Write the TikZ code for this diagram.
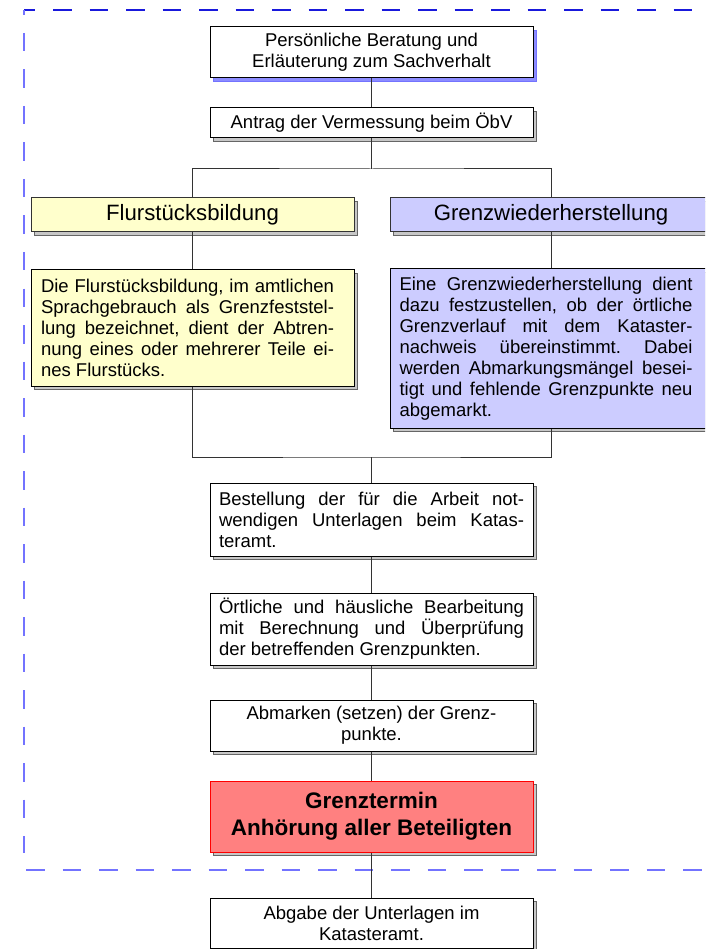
\documentclass[tikz,border=0pt]{standalone}
\usepackage{fontspec}
\setmainfont{Liberation Sans}
\usetikzlibrary{shadows}
\frenchspacing
\definecolor{yel}{HTML}{FFFFCC}
\definecolor{lav}{HTML}{CCCCFF}
\definecolor{redfill}{HTML}{FF8080}
\definecolor{dashdark}{RGB}{25,25,220}
\definecolor{dashlight}{RGB}{115,115,255}
\definecolor{linegray}{HTML}{333333}
\tikzset{
  sh/.style={drop shadow={shadow xshift=3pt,shadow yshift=-3pt,fill=black!22,draw=black!60,line width=0.8pt,opacity=1}},
  shblue/.style={drop shadow={shadow xshift=3pt,shadow yshift=-3pt,fill=blue!45,draw=blue!55,line width=0.8pt,opacity=1}},
  box/.style={draw=black, line width=1pt, fill=white, inner sep=0pt, font=\fontsize{18.5}{21}\selectfont, align=center},
  head/.style={box, font=\fontsize{22.2}{26}\selectfont, draw=linegray},
  conn/.style={draw=linegray, line width=1pt},
  frametop/.style={draw=dashdark, line width=1.8pt, dash pattern=on 18.5pt off 18pt},
  frameside/.style={draw=dashlight, line width=1.8pt, dash pattern=on 18.5pt off 18pt}
}
\begin{document}
\begin{tikzpicture}[x=1pt,y=-1pt]
\useasboundingbox (0,0) rectangle (705,949);
\clip (0,0) rectangle (705,949);
% dashed frame
\draw[frametop, dash phase=7.5pt] (24,10) -- (730,10);
\draw[frameside, dash phase=13.5pt] (24,10) -- (24,853);
\draw[frameside] (26,870) -- (730,870);
% nodes
\node[box, shblue, minimum width=323pt, minimum height=51pt] (b1) at (371.5,52.5)
  {Persönliche Beratung und\\Erläuterung zum Sachverhalt};
\node[box, sh, minimum width=323pt, minimum height=30pt] (b2) at (371.5,123)
  {Antrag der Vermessung beim ÖbV};
\node[head, sh, fill=yel, minimum width=323pt, minimum height=34pt] (h1) at (192.5,215)
  {Flurstücksbildung};
\node[head, sh, fill=lav, minimum width=322pt, minimum height=34pt] (h2) at (551,215)
  {Grenzwiederherstellung};
\node[box, sh, fill=yel, minimum width=323pt, minimum height=116pt] (d1) at (192.5,328)
  {\parbox{293pt}{Die Flurstücksbildung, im amtlichen\linebreak Sprachgebrauch als Grenzfeststel-\linebreak lung bezeichnet, dient der Abtren-\linebreak nung eines oder mehrerer Teile ei-\linebreak nes Flurstücks.}\hspace{10pt}};
\node[box, sh, fill=lav, minimum width=322pt, minimum height=159pt] (d2) at (551,348.5)
  {\parbox{293pt}{Eine Grenzwiederherstellung dient\linebreak dazu festzustellen, ob der örtliche\linebreak Grenzverlauf mit dem Kataster-\linebreak nachweis übereinstimmt. Dabei\linebreak werden Abmarkungsmängel besei-\linebreak tigt und fehlende Grenzpunkte neu\linebreak abgemarkt.}\hspace{10pt}};
\node[box, sh, minimum width=323pt, minimum height=73pt] (b3) at (371.5,519.5)
  {\parbox{305pt}{Bestellung der für die Arbeit not-\linebreak wendigen Unterlagen beim Katas-\linebreak teramt.}};
\node[box, sh, minimum width=323pt, minimum height=72pt] (b4) at (371.5,629)
  {\parbox{305pt}{Örtliche und häusliche Bearbeitung\linebreak mit Berechnung und Überprüfung\linebreak der betreffenden Grenzpunkten.}};
\node[box, sh, minimum width=323pt, minimum height=51pt] (b5) at (371.5,725.5)
  {Abmarken (setzen) der Grenz-\\punkte.};
\node[box, sh, fill=redfill, draw=red, minimum width=323pt, minimum height=71pt,
  font=\bfseries\fontsize{22.5}{26.7}\selectfont] (r) at (371.5,816.5)
  {Grenztermin\\Anhörung aller Beteiligten};
\node[box, sh, minimum width=323pt, minimum height=50pt] (b6) at (371.5,923)
  {Abgabe der Unterlagen im\\Katasteramt.};
% connectors
\coordinate (split) at (371.5,169);
\coordinate (join) at (371.5,457);
\draw[conn] (b1) -- (b2);
\draw[conn] (b2.south) -- (split);
\draw[conn] (h1.north) |- (split) -| (h2.north);
\draw[conn] (h1) -- (d1);
\draw[conn] (h2) -- (d2);
\draw[conn] (d1.south) |- (join) -| (d2.south);
\draw[conn] (join) -- (b3.north);
\draw[conn] (b3) -- (b4);
\draw[conn] (b4) -- (b5);
\draw[conn] (b5) -- (r);
\draw[conn] (r) -- (b6);
\end{tikzpicture}
\end{document}
